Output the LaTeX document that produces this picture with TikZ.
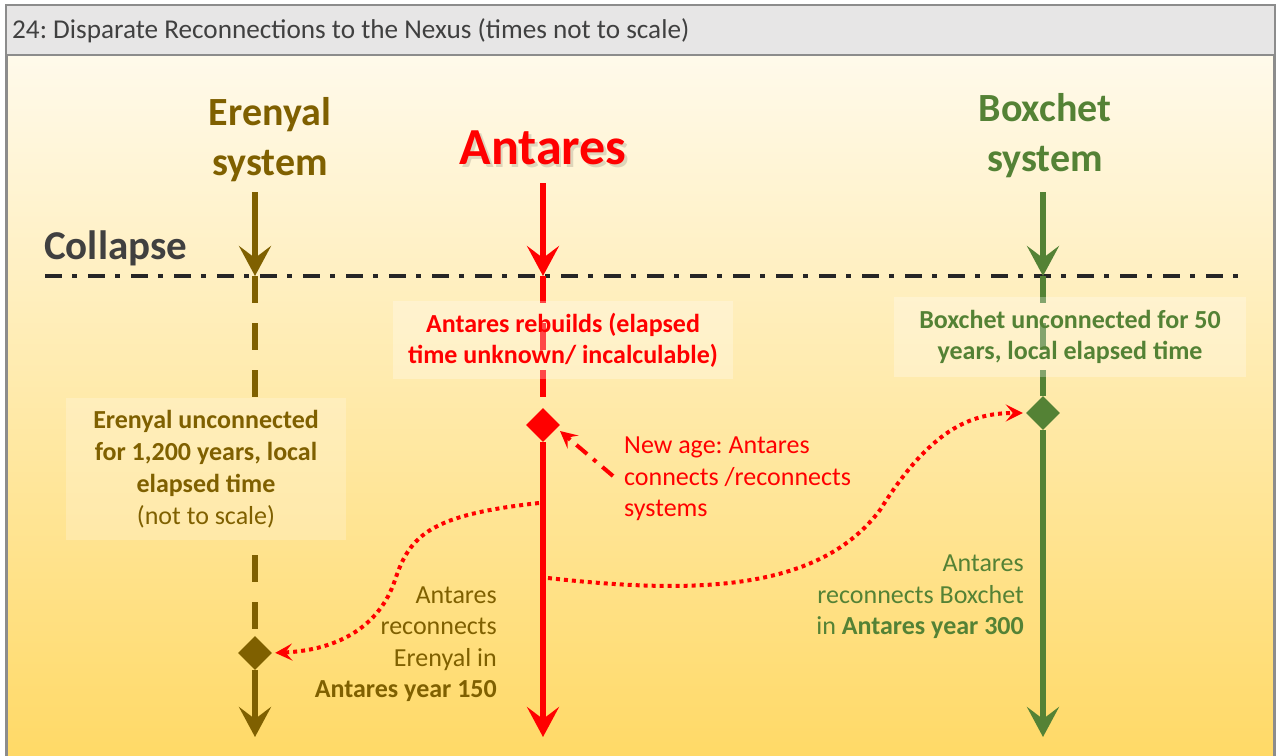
\documentclass[tikz,border=0pt]{standalone}
\usepackage{fontspec}
\setmainfont{Carlito}
\usetikzlibrary{arrows.meta,shapes.geometric}
\definecolor{ebrown}{HTML}{7F6000}
\definecolor{bgreen}{HTML}{548235}
\definecolor{ared}{HTML}{FF0000}
\definecolor{titlegray}{HTML}{404040}
\definecolor{framegray}{HTML}{8C8C8C}
\definecolor{bartop}{HTML}{E7E6E6}
\definecolor{bgtop}{RGB}{255,250,235}
\definecolor{bgbot}{RGB}{255,217,102}
\frenchspacing
\begin{document}
\begin{tikzpicture}[x=1pt,y=-1pt,
  timeline/.style={line width=6.5pt},
  bighead/.style={-{Stealth[length=30pt,width=32pt,inset=12pt]}},
  dashline/.style={line width=6.5pt, dash pattern=on 27pt off 20pt},
  dotlink/.style={ared, line width=4pt, dash pattern=on 4pt off 4pt, shorten >=3pt,
    -{Stealth[length=17pt,width=17pt,inset=7pt]}},
  event/.style={diamond, fill, inner sep=0pt, minimum size=34pt},
  fogbox/.style={fill=white, fill opacity=0.28, text opacity=1, inner sep=0pt, align=center},
  coltitle/.style={font=\bfseries\fontsize{40}{50}\selectfont, align=center, inner sep=0pt},
  lbl/.style={font=\fontsize{26}{31.5}\selectfont, inner sep=0pt},
]
\useasboundingbox (0,0) rectangle (1277,755);
% background and frame
\shade[top color=bgtop, bottom color=bgbot] (6,55) rectangle (1275,760);
\draw[framegray, line width=2.5pt, fill=bartop] (6,5) rectangle (1275,55);
\draw[framegray, line width=3pt] (6.5,55) -- (6.5,760);
\draw[framegray, line width=3pt] (1274.5,55) -- (1274.5,760);
\node[anchor=west, text=titlegray, font=\fontsize{27.2}{32}\selectfont, inner sep=0pt] (title) at (12,31) {24: Disparate Reconnections to the Nexus (times not to scale)};

% column titles
\node[coltitle, text=ebrown] (etitle) at (270,140) {Erenyal\\system};
\node[font=\bfseries\fontsize{52}{60}\selectfont, text=black, opacity=0.13, inner sep=0pt] (atshadow) at (545.5,150.5) {Antares};
\node[font=\bfseries\fontsize{52}{60}\selectfont, text=ared, inner sep=0pt] (atitle) at (543,148) {Antares};
\node[coltitle, text=bgreen] (btitle) at (1045,136) {Boxchet\\system};

% collapse
\node[anchor=west, text=titlegray, font=\bfseries\fontsize{41}{48}\selectfont, inner sep=0pt] (collapse) at (44,248) {Collapse};
\coordinate (cl) at (45,276);
\coordinate (cr) at (1240,276);
\draw[black!85, line width=3.5pt, dash pattern=on 17pt off 10pt on 5pt off 11pt] (cl) -- (cr);

% coordinates of timelines
\coordinate (e0) at (255,192); \coordinate (ec) at (255,276); \coordinate (eend) at (255,737);
\coordinate (a0) at (543,183); \coordinate (ac) at (543,276); \coordinate (aend) at (543,737);
\coordinate (b0) at (1043,192); \coordinate (bc) at (1043,276); \coordinate (bend) at (1043,737);

% events
\node[event, ebrown] (ed) at (255,653) {};
\node[event, ared] (ad) at (543,425) {};
\node[event, bgreen] (bd) at (1043,413) {};

% Erenyal line
\draw[timeline, bighead, ebrown] (e0) -- (ec);
\coordinate (ebt) at (255,398);
\coordinate (ebb) at (255,540);
\draw[dashline, ebrown] (ec) -- (ebt);
\draw[dashline, ebrown, dash phase=32pt] (ebb) -- (ed.north);
\draw[timeline, bighead, ebrown] (ed.south) -- (eend);

% Antares line
\draw[timeline, bighead, ared] (a0) -- (ac);
\draw[dashline, ared] (ac) -- (ad.north);
\draw[timeline, bighead, ared] (ad.south) -- (aend);

% Boxchet line
\draw[timeline, bighead, bgreen] (b0) -- (bc);
\draw[dashline, bgreen] (bc) -- (bd.north);
\draw[timeline, bighead, bgreen] (bd.south) -- (bend);

% fog boxes
\node[fogbox, fill opacity=0.22, minimum width=280pt, minimum height=142pt, text=ebrown, font=\fontsize{26}{32}\selectfont] (ebox) at (206,469)
  {\textbf{Erenyal unconnected}\\\textbf{for 1,200 years, local}\\\textbf{elapsed time}\\(not to scale)};
\node[fogbox, minimum width=340pt, minimum height=78pt, text=ared, font=\bfseries\fontsize{26}{31}\selectfont] (abox) at (563,340)
  {Antares rebuilds (elapsed\\time unknown/ incalculable)};
\node[fogbox, minimum width=352pt, minimum height=80pt, text=bgreen, font=\bfseries\fontsize{26}{30.5}\selectfont] (bbox) at (1070,337)
  {Boxchet unconnected for 50\\years, local elapsed time};

% labels
\node[lbl, anchor=west, text=ared, align=left] (newage) at (624,479) {New age: Antares\\connects /reconnects\\systems};
\node[lbl, anchor=east, text=ebrown, align=right] (erec) at (497,644) {Antares\\reconnects\\Erenyal in\\\textbf{Antares year 150}};
\node[lbl, anchor=east, text=bgreen, align=right] (brec) at (1024,597) {Antares\\reconnects Boxchet\\in \textbf{Antares year 300}};

% new-age pointer
\coordinate (na) at (613,476);
\coordinate (natip) at (560,431);
\draw[ared, line width=4pt, dash pattern=on 14pt off 8pt on 4pt off 8pt,
  -{Stealth[length=17pt,width=17pt,inset=7pt]}] (na) -- (natip);

% dotted reconnections
\coordinate (a1) at (539,503);
\coordinate (a2) at (548,578);
\draw[dotlink] (a1) .. controls (430,515) and (410,535) .. (395,580)
  .. controls (380,625) and (340,650) .. (ed.east);
\draw[dotlink] (a2) .. controls (700,595) and (820,590) .. (880,510)
  .. controls (930,430) and (970,413) .. (bd.west);
\end{tikzpicture}
\end{document}
